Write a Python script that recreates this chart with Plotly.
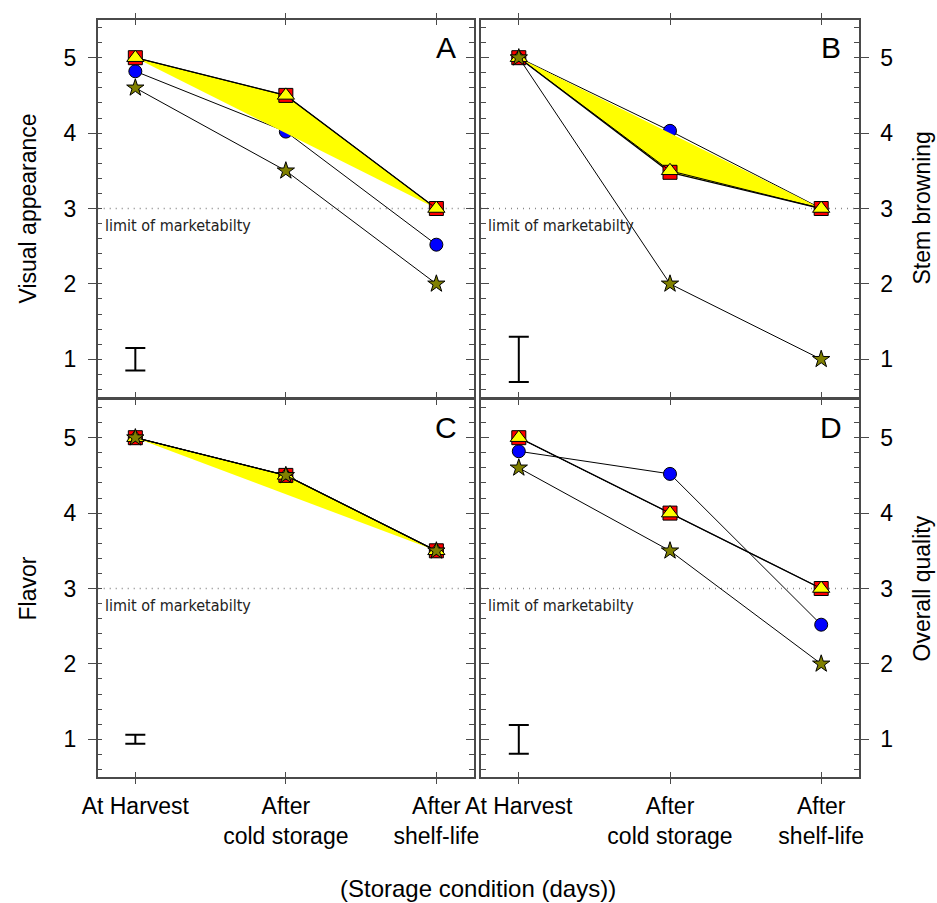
import plotly.graph_objects as go

# ---------------- data ----------------
categories = ["At Harvest", "After<br>cold storage", "After<br>shelf-life"]

visual_square = [5.0, 4.5, 3.0]
visual_triangle = [5.0, 4.5, 3.0]
visual_circle = [4.82, 4.02, 2.52]
visual_star = [4.6, 3.5, 2.0]

stem_square = [5.0, 3.48, 3.0]
stem_triangle = [5.0, 3.5, 3.0]
stem_circle = [5.0, 4.03, 3.0]
stem_star = [5.0, 2.0, 1.0]

flavor_square = [5.0, 4.5, 3.5]
flavor_triangle = [5.0, 4.5, 3.5]
flavor_circle = [5.0, 4.5, 3.5]
flavor_star = [5.0, 4.5, 3.5]

overall_square = [5.0, 4.0, 3.0]
overall_triangle = [5.0, 4.0, 3.0]
overall_circle = [4.82, 4.52, 2.52]
overall_star = [4.6, 3.5, 2.0]

lsd_values = [0.15, 0.30, 0.06, 0.19]
panel_letters = ["A", "B", "C", "D"]
panel_titles = ["Visual appearance", "Stem browning", "Flavor", "Overall quality"]
y_tickvals = [1, 2, 3, 4, 5]
limit_value = 3
limit_label = "limit of marketabilty"
x_title = "(Storage condition (days))"

panels = [
    (visual_square, visual_triangle, visual_circle, visual_star),
    (stem_square, stem_triangle, stem_circle, stem_star),
    (flavor_square, flavor_triangle, flavor_circle, flavor_star),
    (overall_square, overall_triangle, overall_circle, overall_star),
]

# ---------------- layout helpers ----------------
W, H = 937, 903
def fx(px):
    return px / W
def fy(py):
    return 1 - py / H

def sfx(n):
    return "" if n == 1 else str(n)

xdom = [[fx(97.7), fx(474)], [fx(481), fx(859)]]
ydom = [[fy(397), fy(20)], [fy(777), fy(400)]]

FONT = "Arial, Liberation Sans, sans-serif"
NARROW = "DejaVu Sans Condensed, Liberation Sans Narrow, sans-serif"
FRAME = "#4a4a4a"

fig = go.Figure()
layout = dict(
    width=W, height=H,
    margin=dict(l=0, r=0, t=0, b=0, autoexpand=False),
    paper_bgcolor="white", plot_bgcolor="white",
    showlegend=False,
    font=dict(family=FONT, color="black"),
)
annotations = []
shapes = []

for i, (sq, tri, cir, sta) in enumerate(panels):
    n = i + 1
    ov = i + 5
    col, row = i % 2, i // 2
    xa, ya = "x" + sfx(n), "y" + sfx(n)
    xo, yo = "x" + sfx(ov), "y" + sfx(ov)

    common = dict(xaxis=xa, yaxis=ya, showlegend=False, hoverinfo="skip")
    # circles
    fig.add_trace(go.Scatter(x=categories, y=cir, mode="lines+markers", name="Circle",
                             line=dict(color="black", width=1),
                             marker=dict(symbol="circle", size=13, color="#0000FF",
                                         line=dict(color="black", width=1)), **common))
    # squares with yellow filled polygon
    fig.add_trace(go.Scatter(x=categories, y=sq, mode="lines+markers", name="Square",
                             fill="toself", fillcolor="#FFFF00",
                             line=dict(color="black", width=1.3),
                             marker=dict(symbol="square", size=14, color="#FF0000",
                                         line=dict(color="black", width=1)), **common))
    # triangles
    fig.add_trace(go.Scatter(x=categories, y=tri, mode="lines+markers", name="Triangle",
                             line=dict(color="black", width=1),
                             marker=dict(symbol="triangle-up", size=15, color="#FFFF00",
                                         line=dict(color="black", width=1)), **common))
    # stars
    fig.add_trace(go.Scatter(x=categories, y=sta, mode="lines+markers", name="Star",
                             line=dict(color="black", width=1),
                             marker=dict(symbol="star", size=13, color="#808000",
                                         line=dict(color="black", width=1)), **common))
    # LSD bar
    fig.add_trace(go.Scatter(x=[categories[0]], y=[1], mode="markers", name="LSD",
                             marker=dict(size=1, color="rgba(0,0,0,0)"),
                             error_y=dict(type="data", array=[lsd_values[i]], color="black",
                                          thickness=2, width=10), **common))
    # dummy trace for overlay (tick) axes
    fig.add_trace(go.Scatter(x=[None], y=[None], xaxis=xo, yaxis=yo, showlegend=False,
                             hoverinfo="skip"))

    yside = "left" if col == 0 else "right"
    oside = "right" if col == 0 else "left"

    layout["xaxis" + sfx(n)] = dict(
        domain=xdom[col], anchor=ya, type="category", range=[-0.25, 2.25],
        showline=True, linecolor=FRAME, linewidth=1.5, mirror="ticks",
        ticks="outside", ticklen=5, tickcolor=FRAME, tickwidth=1,
        showticklabels=(row == 1), tickfont=dict(size=23, family=FONT),
        ticklabelstandoff=3,
        showgrid=False, zeroline=False, fixedrange=True, automargin=False,
    )
    layout["xaxis" + sfx(ov)] = dict(
        overlaying=xa, anchor=yo, type="linear", range=[-0.25, 2.25],
        tickvals=[0, 1, 2], ticks="inside", ticklen=5, tickcolor=FRAME,
        mirror="ticks", showline=False, showticklabels=False,
        showgrid=False, zeroline=False, automargin=False,
    )
    layout["yaxis" + sfx(n)] = dict(
        domain=ydom[row], anchor=xa, side=yside, range=[0.5, 5.5],
        tickvals=y_tickvals, ticks="outside", ticklen=8, tickcolor=FRAME,
        minor=dict(dtick=0.2, tick0=0, ticks="inside", ticklen=5, tickcolor=FRAME, showgrid=False),
        showline=True, linecolor=FRAME, linewidth=1.5, mirror=True,
        tickfont=dict(size=23, family=FONT), ticklabelstandoff=7,
        showgrid=False, zeroline=False, fixedrange=True, automargin=False,
    )
    layout["yaxis" + sfx(ov)] = dict(
        overlaying=ya, anchor=xo, side=oside, range=[0.5, 5.5],
        tickvals=y_tickvals, ticks="inside", ticklen=8, tickcolor=FRAME,
        minor=dict(dtick=0.2, tick0=0, ticks="inside", ticklen=5, tickcolor=FRAME, showgrid=False),
        showline=False, showticklabels=False, showgrid=False, zeroline=False,
        automargin=False,
    )

    # limit of marketability line
    shapes.append(dict(type="line", xref=xa + " domain", yref=ya, x0=0, x1=1,
                       y0=limit_value, y1=limit_value,
                       line=dict(color="#888888", width=1.5, dash="1px,5px"), layer="below"))
    annotations.append(dict(text=limit_label, xref=xa + " domain", yref=ya, x=0.014, y=2.77,
                            xanchor="left", yanchor="middle", showarrow=False,
                            font=dict(family=NARROW, size=16, color="#222222")))
    # panel letter
    annotations.append(dict(text=panel_letters[i], xref=xa + " domain", yref=ya, x=0.926, y=5.13,
                            xanchor="center", yanchor="middle", showarrow=False,
                            font=dict(family=FONT, size=30, color="black")))
    # y title
    tx = fx(28) if col == 0 else fx(922)
    ty = (ydom[row][0] + ydom[row][1]) / 2
    annotations.append(dict(text=panel_titles[i], xref="paper", yref="paper", x=tx, y=ty,
                            xanchor="center", yanchor="middle", textangle=-90, showarrow=False,
                            font=dict(family=FONT, size=23, color="black")))

annotations.append(dict(text=x_title, xref="paper", yref="paper", x=fx(478), y=fy(888),
                        xanchor="center", yanchor="middle", showarrow=False,
                        font=dict(family=FONT, size=24, color="black")))

layout["annotations"] = annotations
layout["shapes"] = shapes
fig.update_layout(**layout)

fig.write_html("out.html")
